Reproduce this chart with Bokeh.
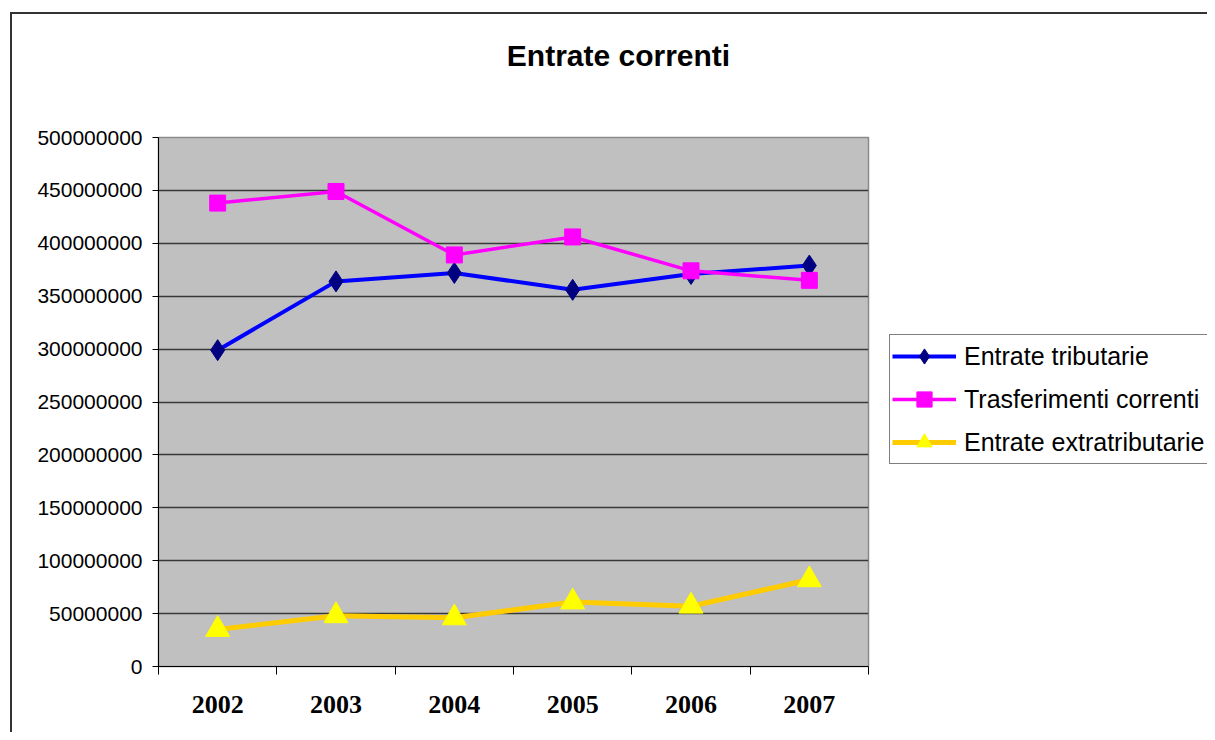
from bokeh.plotting import figure
from bokeh.layouts import row, column
from bokeh.models import Range1d, FixedTicker, NumeralTickFormatter, Legend, LegendItem, Label
from bokeh.embed import file_html
from bokeh.resources import INLINE

years = ["2002", "2003", "2004", "2005", "2006", "2007"]
entrate_tributarie = [299e6, 364e6, 372e6, 356e6, 371e6, 379e6]
trasferimenti_correnti = [438e6, 449e6, 389e6, 406e6, 374e6, 365e6]
entrate_extratributarie = [35e6, 48e6, 46e6, 61e6, 57e6, 82e6]
y_ticks = [0, 50000000, 100000000, 150000000, 200000000, 250000000,
           300000000, 350000000, 400000000, 450000000, 500000000]
series_names = ["Entrate tributarie", "Trasferimenti correnti", "Entrate extratributarie"]
chart_title = "Entrate correnti"

xs = [i + 0.5 for i in range(len(years))]
bounds = [i for i in range(len(years) + 1)]

# ---- title strip ----
tf = figure(width=1195, height=60, x_range=Range1d(0, 1), y_range=Range1d(0, 1),
            x_axis_type=None, y_axis_type=None, output_backend="svg",
            toolbar_location=None, min_border=0, outline_line_color=None,
            background_fill_color="white", border_fill_color="white")
tf.xgrid.visible = False
tf.ygrid.visible = False
tf.add_layout(Label(x=606, y=19, x_units="screen", y_units="screen", text=chart_title,
                    text_align="center", text_baseline="middle",
                    text_font="Liberation Sans", text_font_size="30px",
                    text_font_style="bold", text_color="black"))

# ---- main chart ----
p = figure(width=858, height=658,
           x_range=Range1d(0, len(years)), y_range=Range1d(y_ticks[0], y_ticks[-1]),
           output_backend="svg", toolbar_location=None,
           min_border_left=146, min_border_right=2,
           min_border_top=63, min_border_bottom=66,
           background_fill_color="#C0C0C0", border_fill_color="white",
           outline_line_color="#8a8a8a", outline_line_width=1.5)

p.xaxis.ticker = FixedTicker(ticks=xs, minor_ticks=bounds)
p.xaxis.major_label_overrides = {x: y for x, y in zip(xs, years)}
p.xaxis.major_tick_line_color = None
p.xaxis.major_tick_out = 0
p.xaxis.major_tick_in = 0
p.xaxis.minor_tick_out = 8
p.xaxis.minor_tick_in = 0
p.xaxis.minor_tick_line_color = "black"
p.xaxis.axis_line_color = "black"
p.xaxis.major_label_standoff = 21
p.xaxis.major_label_text_font = "Liberation Serif"
p.xaxis.major_label_text_font_size = "26px"
p.xaxis.major_label_text_font_style = "bold"
p.xaxis.major_label_text_color = "black"

p.yaxis.ticker = FixedTicker(ticks=y_ticks)
p.yaxis.formatter = NumeralTickFormatter(format="0")
p.yaxis.major_tick_out = 6
p.yaxis.major_tick_in = 0
p.yaxis.minor_tick_line_color = None
p.yaxis.axis_line_color = "black"
p.yaxis.major_tick_line_color = "black"
p.yaxis.major_label_standoff = 10
p.yaxis.major_label_text_font = "Liberation Sans"
p.yaxis.major_label_text_font_size = "21px"
p.yaxis.major_label_text_color = "black"

p.xgrid.visible = False
p.ygrid.ticker = FixedTicker(ticks=y_ticks)
p.ygrid.grid_line_color = "#383838"
p.ygrid.grid_line_width = 1.3

styles = [
    dict(line_color="#0000FF", line_width=4, marker="diamond", size=21, fill="#000080"),
    dict(line_color="#FF00FF", line_width=3.5, marker="square", size=16, fill="#FF00FF"),
    dict(line_color="#FFCC00", line_width=5, marker="triangle", size=24, fill="#FFFF00"),
]
data = [entrate_tributarie, trasferimenti_correnti, entrate_extratributarie]

for ys, st in zip(data, styles):
    p.line(xs, ys, line_color=st["line_color"], line_width=st["line_width"])
    p.scatter(xs, ys, marker=st["marker"], size=st["size"],
              fill_color=st["fill"], line_color=st["fill"])

# ---- legend panel ----
lf = figure(width=337, height=658, x_range=Range1d(-20, -10), y_range=Range1d(y_ticks[0], y_ticks[-1]),
            x_axis_type=None, y_axis_type=None, output_backend="svg",
            toolbar_location=None, min_border=0, outline_line_color=None,
            background_fill_color="white", border_fill_color="white")
lf.xgrid.visible = False
lf.ygrid.visible = False

items = []
for name, ys, st in zip(series_names, data, styles):
    lr = lf.line(xs, ys, line_color=st["line_color"], line_width=st["line_width"])
    mr = lf.scatter(xs, ys, marker=st["marker"], size=st["size"],
                    fill_color=st["fill"], line_color=st["fill"])
    items.append(LegendItem(label=name, renderers=[lr, mr]))

legend = Legend(items=items, location=(19, 202))
legend.label_text_font = "Liberation Sans"
legend.label_text_font_size = "25px"
legend.label_text_color = "black"
legend.glyph_width = 64
legend.glyph_height = 38
legend.label_height = 38
legend.label_width = 300
legend.spacing = 5
legend.padding = 2
legend.label_standoff = 8
legend.margin = 0
legend.border_line_color = "black"
legend.border_line_width = 1
legend.background_fill_color = "white"
legend.background_fill_alpha = 1
lf.add_layout(legend, "center")

layout = column(tf, row(p, lf, spacing=0), spacing=0)
layout.margin = (12, 0, 0, 10)
layout.styles = {"border-left": "2px solid #333333", "border-top": "2px solid #333333"}

open("out.html", "w").write(file_html(layout, INLINE))
